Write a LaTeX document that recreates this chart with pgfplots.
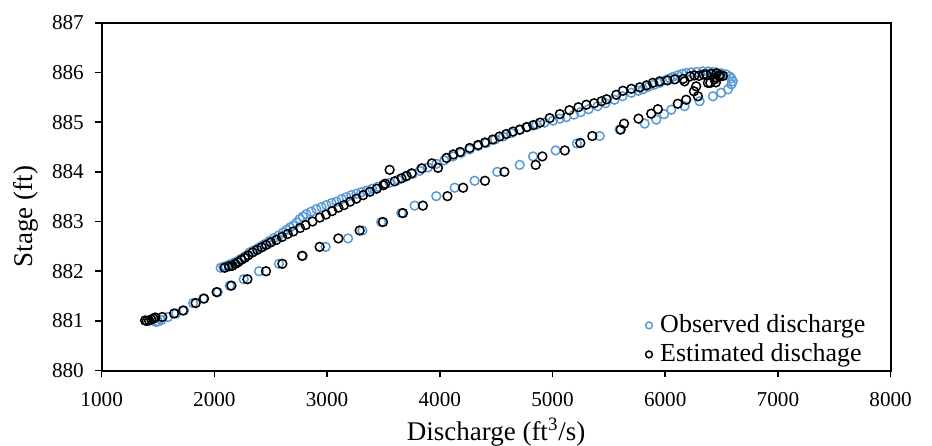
\documentclass[border=0pt]{standalone}
\usepackage{fontspec}
\setmainfont{Liberation Serif}
\usepackage{pgfplots}
\pgfplotsset{compat=1.18}

\definecolor{obsblue}{HTML}{5B9BD5}

% observed stage-discharge points (rising limb, then falling limb)
\pgfplotstableread{
x y
1480 880.98
1500 880.99
1530 881.02
1589 881.08
1660 881.15
1730 881.21
1811 881.36
1900 881.45
2030 881.58
2136 881.71
2260 881.84
2396 882.00
2573 882.15
2786 882.31
2987 882.49
3186 882.66
3313 882.82
3480 882.99
3659 883.17
3777 883.32
3969 883.51
4132 883.68
4309 883.82
4510 884.00
4709 884.14
4828 884.31
5028 884.43
5217 884.57
5419 884.72
5596 884.85
5818 884.97
5921 885.05
5990 885.16
6054 885.25
6172 885.32
6305 885.42
6423 885.52
6497 885.59
6557 885.66
6587 885.76
6600 885.82
6587 885.88
6570 885.92
6542 885.96
6500 885.98
6453 886.00
6420 886.01
6380 886.02
6335 886.02
6280 886.01
6230 886.00
6187 885.99
6150 885.97
6110 885.94
6069 885.91
6040 885.88
6000 885.84
5951 885.79
5900 885.75
5850 885.71
5803 885.66
5760 885.63
5700 885.59
5620 885.52
5550 885.45
5470 885.38
5400 885.32
5320 885.26
5250 885.20
5190 885.15
5123 885.10
5065 885.07
5005 885.03
4930 884.99
4857 884.95
4780 884.90
4709 884.84
4635 884.78
4561 884.71
4490 884.65
4413 884.58
4340 884.52
4265 884.45
4190 884.38
4117 884.31
4040 884.23
3970 884.16
3895 884.09
3822 884.02
3760 883.96
3700 883.90
3630 883.84
3555 883.78
3500 883.74
3450 883.70
3400 883.66
3350 883.62
3305 883.59
3261 883.56
3215 883.53
3172 883.49
3130 883.45
3083 883.40
3040 883.37
2994 883.33
2950 883.29
2905 883.25
2860 883.20
2816 883.15
2785 883.10
2757 883.05
2730 882.98
2700 882.92
2670 882.88
2640 882.83
2609 882.78
2570 882.72
2530 882.67
2490 882.61
2450 882.55
2420 882.51
2390 882.47
2350 882.42
2313 882.38
2270 882.30
2235 882.25
2200 882.20
2160 882.16
2130 882.13
2100 882.10
2080 882.09
2056 882.07
}\observed

% estimated points
\pgfplotstableread{
x y
1385 881.01
1400 881.00
1420 881.01
1440 881.03
1460 881.05
1475 881.07
1538 881.08
1642 881.15
1722 881.21
1834 881.36
1908 881.45
2020 881.58
2151 881.71
2293 881.84
2458 882.00
2603 882.15
2778 882.31
2934 882.49
3100 882.66
3289 882.82
3496 882.99
3673 883.17
3850 883.32
4068 883.51
4207 883.68
4401 883.82
4573 884.00
4851 884.14
4910 884.31
5109 884.43
5247 884.58
5353 884.72
5605 884.85
5635 884.97
5763 885.07
5876 885.17
5935 885.26
6112 885.37
6186 885.45
6290 885.52
6255 885.62
6275 885.72
6379 885.79
6438 885.86
6482 885.92
6512 885.93
6485 885.95
6455 885.98
6440 885.90
6410 885.97
6450 885.80
6400 885.79
6365 885.96
6340 885.96
6300 885.93
6260 885.94
6220 885.92
6160 885.87
6172 885.82
6085 885.86
6020 885.84
5950 885.82
5890 885.79
5835 885.74
5775 885.70
5700 885.67
5625 885.63
5566 885.55
5480 885.46
5435 885.42
5370 885.38
5300 885.35
5230 885.30
5150 885.24
5065 885.16
4975 885.08
4890 884.99
4830 884.94
4770 884.90
4710 884.85
4650 884.81
4590 884.76
4530 884.71
4470 884.65
4400 884.59
4340 884.54
4265 884.48
4180 884.40
4120 884.35
4060 884.28
3984 884.08
3930 884.17
3840 884.07
3750 883.97
3705 883.92
3660 883.87
3600 883.81
3555 884.04
3515 883.76
3500 883.73
3440 883.66
3380 883.60
3320 883.53
3260 883.46
3205 883.40
3150 883.33
3100 883.28
3045 883.21
2990 883.14
2935 883.08
2870 883.00
2810 882.93
2760 882.87
2700 882.80
2650 882.75
2600 882.69
2550 882.63
2500 882.58
2460 882.53
2420 882.48
2380 882.43
2340 882.38
2300 882.32
2270 882.27
2240 882.23
2210 882.18
2185 882.15
2160 882.11
2130 882.10
2091 882.07
}\estimated

\begin{document}
\begin{tikzpicture}
\path[use as bounding box] (-50.85pt,-37.65pt) rectangle (415.2pt,185.35pt);
\begin{axis}[
    at={(0,0)}, anchor=south west,
    width=394.5pt, height=174pt, scale only axis,
    xmin=1000, xmax=8000, ymin=880, ymax=887,
    xtick={1000,2000,...,8000}, ytick={880,881,...,887},
    tick align=outside, tick pos=left,
    major tick length=3.4pt,
    axis line style={line width=0.9pt},
    every tick/.style={black, line width=0.8pt},
    /pgf/number format/1000 sep={},
    /pgf/number format/assume math mode=true,
    ticklabel style={font=\fontsize{10.6}{12}\selectfont},
    xticklabel style={yshift=-4pt},
    yticklabel style={xshift=-2pt},
    xlabel={Discharge (ft\textsuperscript{3}/s)},
    ylabel={Stage (ft)},
    label style={font=\fontsize{13.5}{16}\selectfont},
    x label style={at={(axis description cs:0.5,0)}, anchor=base, yshift=-35pt},
    y label style={at={(axis description cs:-0.0961,0.443)}, anchor=center},
    legend style={at={(axis description cs:0.683,-0.002)}, anchor=south west,
        draw=none, fill=none, font=\fontsize{13}{15}\selectfont,
        row sep=0pt, inner sep=1pt},
    legend cell align=left,
    legend image code/.code={%
        \path (0cm,0cm) (0.22cm,0cm);
        \draw[mark repeat=2, mark phase=2, #1, mark size=1.7pt]
        plot coordinates {(0cm,0cm) (0.1cm,0cm) (0.2cm,0cm)};},
]
\addplot[only marks, mark=o, mark size=2.2pt, obsblue,
    mark options={line width=0.75pt}] table[x=x, y=y] {\observed};
\addlegendentry{Observed discharge}
\addplot[only marks, mark=o, mark size=2.2pt, black,
    mark options={line width=0.75pt}] table[x=x, y=y] {\estimated};
\addlegendentry{Estimated dischage}
\end{axis}
\end{tikzpicture}
\end{document}
